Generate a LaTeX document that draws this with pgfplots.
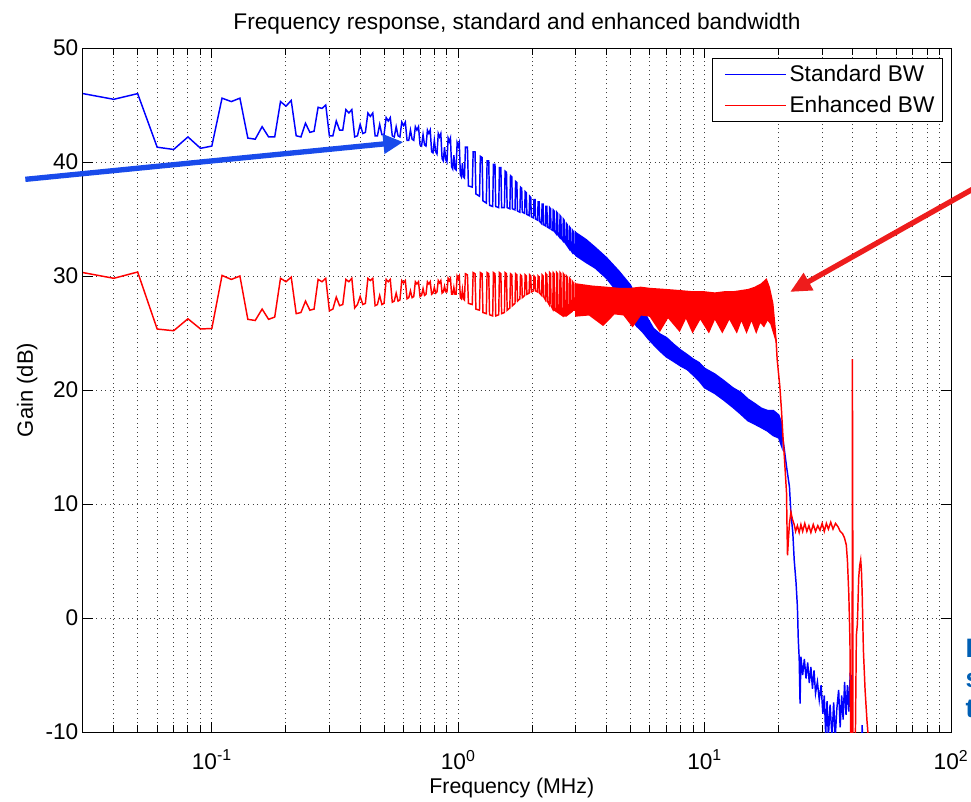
\documentclass[border=0pt]{standalone}
\usepackage{pgfplots}
\pgfplotsset{compat=1.18}
\usepackage{fontspec}
\setmainfont{Liberation Sans}
\usetikzlibrary{arrows.meta}
\definecolor{arrblue}{RGB}{25,75,235}
\definecolor{arrred}{RGB}{238,28,28}
\definecolor{notecol}{RGB}{0,95,180}
\begin{document}
\begin{tikzpicture}
\useasboundingbox (0,0) rectangle (728.25pt,-600.75pt);
\clip (0,0) rectangle (728.25pt,-600.75pt);
\begin{axis}[
  at={(62.25pt,-549pt)}, anchor=south west,
  width=651pt, height=513pt, scale only axis,
  xmode=log, xmin=0.03, xmax=100, ymin=-10, ymax=50,
  xtick={0.1,1,10,100},
  xticklabels={10\textsuperscript{-1},10\textsuperscript{0},10\textsuperscript{1},10\textsuperscript{2}},
  minor xtick={0.04,0.05,0.06,0.07,0.08,0.09,0.2,0.3,0.4,0.5,0.6,0.7,0.8,0.9,2,3,4,5,6,7,8,9,20,30,40,50,60,70,80,90},
  ytick={-10,0,10,20,30,40,50},
  yticklabels={-10,0,10,20,30,40,50},
  xmajorgrids, xminorgrids, ymajorgrids,
  grid style={black!75, line width=0.75pt, dash pattern=on 0.75pt off 2.6pt},
  major grid style={black!75, line width=0.75pt, dash pattern=on 0.75pt off 2.6pt},
  minor grid style={black!75, line width=0.75pt, dash pattern=on 0.75pt off 2.6pt},
  tick align=inside, tick pos=both,
  major tick length=7.5pt, minor tick length=5pt,
  every tick/.style={black, line width=0.75pt},
  axis line style={black, line width=0.75pt},
  ticklabel style={font=\fontsize{17}{20}\selectfont},
  xticklabel style={yshift=-10pt},
  title={Frequency response, standard and enhanced bandwidth},
  title style={font=\fontsize{17}{20}\selectfont, at={(axis description cs:0.5,1)}, anchor=base, yshift=8pt, inner sep=0pt},
  xlabel={Frequency (MHz)},
  xlabel style={font=\fontsize{16}{19}\selectfont, at={(axis description cs:0.494,0)}, anchor=base, yshift=-45.75pt, inner sep=0pt},
  ylabel={Gain (dB)},
  ylabel style={font=\fontsize{16.5}{19}\selectfont, at={(axis description cs:-0.0576,0.5)}, anchor=base, inner sep=0pt},
  legend cell align=left,
  legend style={at={(axis description cs:0.9908,0.9854)}, anchor=north east, draw=black, line width=0.75pt,
    font=\fontsize{17}{20}\selectfont, inner xsep=4pt, inner ysep=3pt, row sep=5.5pt},
  legend image code/.code={\path (-5pt,0pt); \draw[#1, line width=1pt] (0pt,0pt) -- (46pt,0pt);},
]
% ---------------- Standard BW (blue) ----------------
\addplot[blue, line width=1.1pt] coordinates {
(0.03,46.0) (0.04,45.5) (0.05,46.0) (0.06,41.3) (0.07,41.1) (0.08,42.2) (0.09,41.2) (0.10,41.4)
(0.11,45.6) (0.12,45.3) (0.13,45.6) (0.14,42.1) (0.15,42.0) (0.16,43.1) (0.17,42.2) (0.18,42.2)
(0.19,45.3) (0.20,44.9) (0.21,45.4) (0.22,42.3) (0.23,42.2) (0.24,43.4) (0.25,42.6) (0.26,42.7)
(0.27,44.8) (0.28,44.7) (0.29,45.0) (0.30,42.3) (0.31,42.3) (0.32,43.6) (0.33,42.8) (0.34,42.8)
(0.35,44.6) (0.36,44.3) (0.37,44.6) (0.38,42.2) (0.39,42.3) (0.40,43.3) (0.41,42.5) (0.42,42.6)
(0.43,44.3) (0.44,44.0) (0.45,44.3) (0.46,42.3) (0.47,42.3) (0.48,43.3) (0.49,42.4) (0.50,42.4)
(0.51,43.9) (0.52,43.6) (0.53,43.9) (0.54,42.3) (0.55,42.2) (0.56,43.1) (0.57,42.3) (0.58,42.2)
(0.59,43.5) (0.60,43.2) (0.61,43.5) (0.62,41.9) (0.63,41.9) (0.64,42.8) (0.65,42.0) (0.66,41.9)
(0.67,43.1) (0.68,42.8) (0.69,43.1) (0.70,41.5) (0.71,41.4) (0.72,42.4) (0.73,41.5) (0.74,41.4)
(0.75,42.8) (0.76,42.5) (0.77,42.8) (0.78,40.9) (0.79,40.8) (0.80,41.9) (0.81,40.9) (0.82,40.7)
(0.83,42.5) (0.84,42.2) (0.85,42.5) (0.86,40.3) (0.87,40.1) (0.88,41.3) (0.89,40.2) (0.90,40.0)
(0.91,42.1) (0.92,41.8) (0.93,42.1) (0.94,39.6) (0.95,39.4) (0.96,40.6) (0.97,39.4) (0.98,39.3)
(0.99,41.7) (1.00,41.4) (1.01,41.7) (1.02,38.9) (1.03,38.7) (1.04,39.9) (1.05,38.7) (1.06,38.6)
(1.07,41.3) (1.09,41.3) (1.10,37.9) (1.14,37.8)
(1.15,40.9) (1.17,40.9) (1.18,37.2) (1.22,37.0)
(1.23,40.5) (1.25,40.4) (1.26,36.6) (1.30,36.4)
(1.31,40.1) (1.33,40.1) (1.34,36.2) (1.38,36.1)
(1.39,39.8) (1.41,39.8) (1.42,36.1) (1.46,36.0)
(1.47,39.5) (1.49,39.5) (1.50,36.0) (1.54,36.0)
(1.55,39.2) (1.57,39.1) (1.58,36.0) (1.62,35.9)
(1.63,38.8) (1.65,38.7) (1.66,35.9) (1.70,35.8)
(1.71,38.3) (1.73,38.2) (1.74,35.7) (1.78,35.6)
(1.79,37.8) (1.81,37.7) (1.82,35.6) (1.86,35.5)
(1.87,37.4) (1.89,37.3) (1.90,35.4) (1.94,35.3)
(1.95,37.0) (1.97,36.9) (1.98,35.2) (2.02,35.1)
(2.03,36.7) (2.05,36.7) (2.06,35.0) (2.10,34.9)
(2.11,36.5) (2.13,36.5) (2.14,34.8) (2.18,34.6)
(2.19,36.3) (2.21,36.3) (2.22,34.5) (2.26,34.4)
(2.27,36.1) (2.29,36.1) (2.30,34.3) (2.34,34.2)
(2.35,36.0) (2.37,35.9) (2.38,34.1) (2.42,34.0)
(2.43,35.8) (2.45,35.7) (2.46,33.9) (2.50,33.7)
(2.51,35.6) (2.53,35.5) (2.54,33.6) (2.58,33.4)
(2.59,35.3) (2.61,35.2) (2.62,33.3) (2.66,33.1)
(2.67,35.0) (2.69,34.9) (2.70,33.0) (2.74,32.8)
(2.75,34.6) (2.77,34.5) (2.78,32.6) (2.82,32.4)
(2.83,34.3) (2.85,34.2) (2.86,32.3) (2.90,32.1)
(2.91,34.0) (2.93,33.9) (2.94,32.0) (2.98,31.9)
(2.99,33.8) (3.01,33.7) (3.02,31.8) (3.06,31.7)
};
\addlegendentry{Standard BW}
\addplot[blue, fill=blue, line width=1.1pt, forget plot] coordinates {
(3.0,33.8) (3.3,33.2) (3.6,32.5) (4.0,31.6) (4.5,30.4) (5.0,29.2) (5.3,28.1) (5.6,27.2) (5.9,26.2)
(6.2,25.4) (6.6,24.9) (7.0,24.6) (7.5,24.0) (8.0,23.5) (8.5,23.1) (9.0,22.7) (9.5,22.4) (10,21.9)
(11,21.4) (12,20.8) (13,20.2) (14,19.8) (15,19.2) (16,18.8) (17,18.4) (18,18.2) (19,18.2) (20,17.8) (20.6,17.0)
(20.6,15.0) (20,15.8) (19,16.0) (18,16.4) (17,16.7) (16,17.0) (15,17.3) (14,17.9) (13,18.5) (12,19.1)
(11,19.7) (10,20.2) (9.5,20.8) (9,21.3) (8.5,21.8) (8,22.1) (7.5,22.5) (7,22.9) (6.6,23.4) (6.2,24.0)
(5.9,24.5) (5.6,25.1) (5.3,25.6) (5.0,26.4) (4.7,27.5) (4.5,28.4) (4.0,29.8) (3.6,30.7) (3.3,31.2) (3.0,31.8)
} -- cycle;
\addplot[blue, line width=1.1pt, forget plot] coordinates {
(20.3,17.0) (20.6,16.2) (21.0,15.0) (21.5,13.3) (22.1,11.5) (22.4,9.2) (22.8,7.5) (23.1,5.1) (23.5,3.1)
(23.8,1.0) (24.0,-1.9) (24.2,-3.5) (24.4,-7.5) (24.6,-3.4) (25.0,-5.0) (25.4,-3.6) (25.8,-5.3) (26.2,-3.9)
(26.6,-5.7) (27.0,-4.3) (27.4,-6.2) (27.8,-4.6) (28.2,-6.6) (28.7,-5.6) (29.2,-7.2) (29.7,-5.9) (30.2,-8.4)
(30.6,-6.8) (31.0,-10.2) (31.4,-7.3) (31.8,-10.5) (32.3,-7.6) (32.9,-10.5) (33.4,-7.4) (33.9,-10.5)
(34.4,-8.0) (35.0,-6.3) (35.5,-9.6) (36.0,-6.8) (36.5,-8.9) (37.0,-5.6) (37.5,-8.5) (38.0,-5.9) (38.5,-8.2)
(39.0,-4.8) (39.2,-7.8) (39.5,-5.0) (39.8,-11) (43.4,-11) (43.6,-9.4) (43.8,-11)
};
% ---------------- Enhanced BW (red) ----------------
\addplot[red, line width=1.1pt] coordinates {
(0.03,30.3) (0.04,29.8) (0.05,30.35) (0.06,25.35) (0.07,25.2) (0.08,26.25) (0.09,25.35) (0.10,25.4)
(0.11,30.05) (0.12,29.7) (0.13,30.0) (0.14,26.2) (0.15,26.1) (0.16,27.1) (0.17,26.2) (0.18,26.4)
(0.19,29.8) (0.20,29.5) (0.21,29.9) (0.22,26.7) (0.23,26.8) (0.24,27.8) (0.25,27.0) (0.26,27.1)
(0.27,29.7) (0.28,29.5) (0.29,29.8) (0.30,26.95) (0.31,27.1) (0.32,28.15) (0.33,27.4) (0.34,27.5)
(0.35,29.7) (0.36,29.5) (0.37,29.8) (0.38,27.2) (0.39,27.5) (0.40,28.2) (0.41,27.5) (0.42,27.6)
(0.43,29.8) (0.44,29.6) (0.45,29.8) (0.46,27.4) (0.47,27.5) (0.48,28.3) (0.49,27.5) (0.50,27.6)
(0.51,29.7) (0.52,29.5) (0.53,29.7) (0.54,27.7) (0.55,27.8) (0.56,28.5) (0.57,27.8) (0.58,27.9)
(0.59,29.6) (0.60,29.4) (0.61,29.6) (0.62,28.0) (0.63,28.1) (0.64,28.7) (0.65,28.1) (0.66,28.2)
(0.67,29.5) (0.68,29.3) (0.69,29.5) (0.70,28.2) (0.71,28.3) (0.72,28.9) (0.73,28.3) (0.74,28.4)
(0.75,29.5) (0.76,29.3) (0.77,29.5) (0.78,28.4) (0.79,28.5) (0.80,29.0) (0.81,28.5) (0.82,28.6)
(0.83,29.6) (0.84,29.4) (0.85,29.6) (0.86,28.5) (0.87,28.6) (0.88,29.1) (0.89,28.6) (0.90,28.6)
(0.91,29.8) (0.92,29.6) (0.93,29.8) (0.94,28.4) (0.95,28.4) (0.96,29.0) (0.97,28.4) (0.98,28.4)
(0.99,30.0) (1.00,29.8) (1.01,30.0) (1.02,28.1) (1.03,28.0) (1.04,28.8) (1.05,28.0) (1.06,27.9)
(1.07,30.2) (1.09,30.1) (1.10,27.6) (1.14,27.5)
(1.15,30.3) (1.17,30.2) (1.18,27.1) (1.22,27.0)
(1.23,30.3) (1.25,30.2) (1.26,26.8) (1.30,26.7)
(1.31,30.3) (1.33,30.2) (1.34,26.6) (1.38,26.5)
(1.39,30.3) (1.41,30.2) (1.42,26.5) (1.46,26.6)
(1.47,30.3) (1.49,30.2) (1.50,26.7) (1.54,26.8)
(1.55,30.3) (1.57,30.2) (1.58,27.0) (1.62,27.2)
(1.63,30.2) (1.65,30.1) (1.66,27.4) (1.70,27.6)
(1.71,30.2) (1.73,30.1) (1.74,27.8) (1.78,28.0)
(1.79,30.1) (1.81,30.0) (1.82,28.1) (1.86,28.3)
(1.87,30.1) (1.89,30.0) (1.90,28.4) (1.94,28.5)
(1.95,30.1) (1.97,30.0) (1.98,28.6) (2.02,28.7)
(2.03,30.0) (2.05,29.9) (2.06,28.7) (2.10,28.6)
(2.11,30.0) (2.13,29.9) (2.14,28.5) (2.18,28.3)
(2.19,30.1) (2.21,30.0) (2.22,28.2) (2.26,27.9)
(2.27,30.2) (2.29,30.1) (2.30,27.8) (2.34,27.5)
(2.35,30.3) (2.37,30.2) (2.38,27.4) (2.42,27.1)
(2.43,30.3) (2.45,30.2) (2.46,27.0) (2.50,26.9)
(2.51,30.3) (2.53,30.2) (2.54,26.8) (2.58,26.7)
(2.59,30.3) (2.61,30.2) (2.62,26.6) (2.66,26.5)
(2.67,30.2) (2.69,30.1) (2.70,26.5) (2.74,26.5)
(2.75,30.0) (2.77,29.9) (2.78,26.6) (2.82,26.7)
(2.83,29.8) (2.85,29.7) (2.86,26.8) (2.90,26.9)
(2.91,29.5) (2.93,29.4) (2.94,27.0) (2.98,27.0)
(2.99,29.3) (3.01,29.2) (3.02,27.1) (3.06,27.0)
};
\addlegendentry{Enhanced BW}
\addplot[red, fill=red, line width=1.1pt, forget plot] coordinates {
(3.0,29.3) (3.5,29.1) (4.0,29.0) (4.5,28.9) (5.0,28.9) (5.5,29.0) (6.0,28.9) (7,28.8) (8,28.7) (9,28.6)
(10,28.6) (11,28.5) (12,28.6) (13,28.6) (14,28.7) (15,28.8) (16,29.0) (17,29.3) (17.8,29.7) (18.3,29.0)
(18.9,27.6) (19.4,25.0)
(19.4,24.5) (18.6,25.8) (18.0,26.2) (17.4,25.6) (16.8,26.0) (16.2,25.1) (15.5,26.2) (14.8,25.1) (14.1,26.2)
(13.5,25.1) (12.6,26.3) (11.8,25.1) (11.0,26.3) (10.4,25.1) (9.6,26.3) (8.94,25.1) (8.4,26.4) (7.91,25.2)
(7.1,26.4) (6.58,25.2) (6.0,26.5) (5.5,26.6) (5.1,25.6) (4.7,26.6) (4.3,26.7) (3.87,25.7) (3.4,26.6) (3.0,26.5)
} -- cycle;
\addplot[red, line width=1.1pt, forget plot] coordinates {
(19.2,25.5) (19.5,24.4) (19.7,22.7) (20.2,20.3) (20.5,18.3) (20.8,15.9) (21.1,13.9) (21.5,11.0) (21.6,8.0)
(21.7,5.5) (21.9,7.0) (22.1,8.3) (22.4,9.3) (22.7,8.7) (23.1,8.2) (23.4,7.6) (23.8,8.1) (24.2,7.5) (24.6,8.2)
(25.0,7.6) (25.5,8.3) (26.0,7.6) (26.5,8.1) (27.0,7.5) (27.6,8.2) (28.2,7.6) (28.8,8.1) (29.4,7.7) (30.0,8.3)
(30.6,7.6) (31.2,8.3) (31.8,7.8) (32.5,8.4) (33.2,7.8) (34.0,8.3) (34.8,8.0) (35.5,7.6) (36.3,7.4) (37.0,7.0)
(37.6,6.4) (38.0,5.0) (38.5,2.0) (38.9,-2.0) (39.2,-11) (39.7,-11) (39.8,22.7) (39.85,12.0) (39.9,18.2)
(40.0,-11) (40.9,-11) (41.3,-1.5) (41.7,-0.5) (42.2,3.5) (42.6,4.6) (43.0,5.1) (43.3,4.2) (43.6,2.2)
(44.1,-2.8) (44.8,-6.3) (45.6,-9.0) (46.4,-11)
};
\end{axis}
% annotation arrows
\draw[arrblue, line width=4pt, -{Triangle[length=15pt,width=14pt]}] (19pt,-134.5pt) -- (302.5pt,-106.5pt);
\draw[arrred, line width=4pt, -{Triangle[length=16pt,width=14pt]}] (731pt,-141pt) -- (592.5pt,-219pt);
% partly visible note at the right edge (cut off by the picture's edge, as in the reference)
\node[anchor=base west, inner sep=0pt, text=notecol, font=\bfseries\fontsize{20}{24}\selectfont] at (724pt,-492.75pt) {E};
\node[anchor=base west, inner sep=0pt, text=notecol, font=\bfseries\fontsize{20}{24}\selectfont] at (724pt,-515.25pt) {s};
\node[anchor=base west, inner sep=0pt, text=notecol, font=\bfseries\fontsize{20}{24}\selectfont] at (724pt,-537.75pt) {t};
\end{tikzpicture}
\end{document}
